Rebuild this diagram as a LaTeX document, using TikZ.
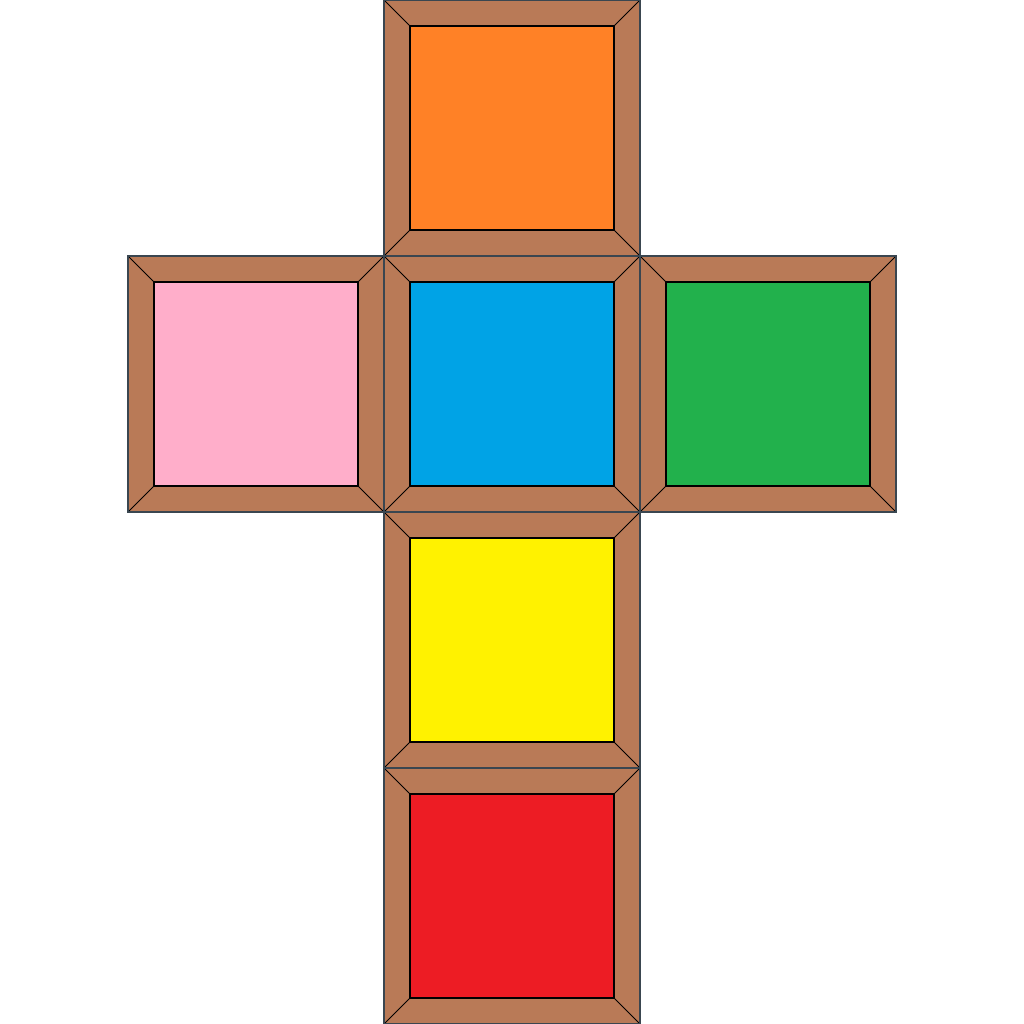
\documentclass[tikz,border=0pt]{standalone}
\definecolor{brn}{HTML}{B97A57}
\definecolor{c1}{HTML}{FF8126}
\definecolor{c2}{HTML}{FFAECA}
\definecolor{c3}{HTML}{00A3E6}
\definecolor{c4}{HTML}{22B14C}
\definecolor{c5}{HTML}{FFF200}
\definecolor{c6}{HTML}{ED1C24}
\definecolor{edge}{HTML}{3A4650}
\tikzset{
  outer/.style={fill=brn,draw=edge,line width=1.2pt},
  inner/.style={draw=black,line width=1.2pt},
  diag/.style={draw=black,line width=0.8pt}
}
\newcommand{\tile}[3]{%
  \begin{scope}[shift={(#1,#2)}]
    \path[outer] (0,0) rectangle (256,256);
    \draw[diag] (0,0) -- (26,26) (256,0) -- (230,26) (0,256) -- (26,230) (256,256) -- (230,230);
    \path[inner,fill=#3] (26,26) rectangle (230,230);
    \draw[edge,line width=1.2pt] (0,0) rectangle (256,256);
  \end{scope}}
\begin{document}
\begin{tikzpicture}[x=1pt,y=-1pt]
\useasboundingbox (0,0) rectangle (1024,1024);
\tile{384}{0}{c1}
\tile{128}{256}{c2}
\tile{384}{256}{c3}
\tile{640}{256}{c4}
\tile{384}{512}{c5}
\tile{384}{768}{c6}
\end{tikzpicture}
\end{document}
